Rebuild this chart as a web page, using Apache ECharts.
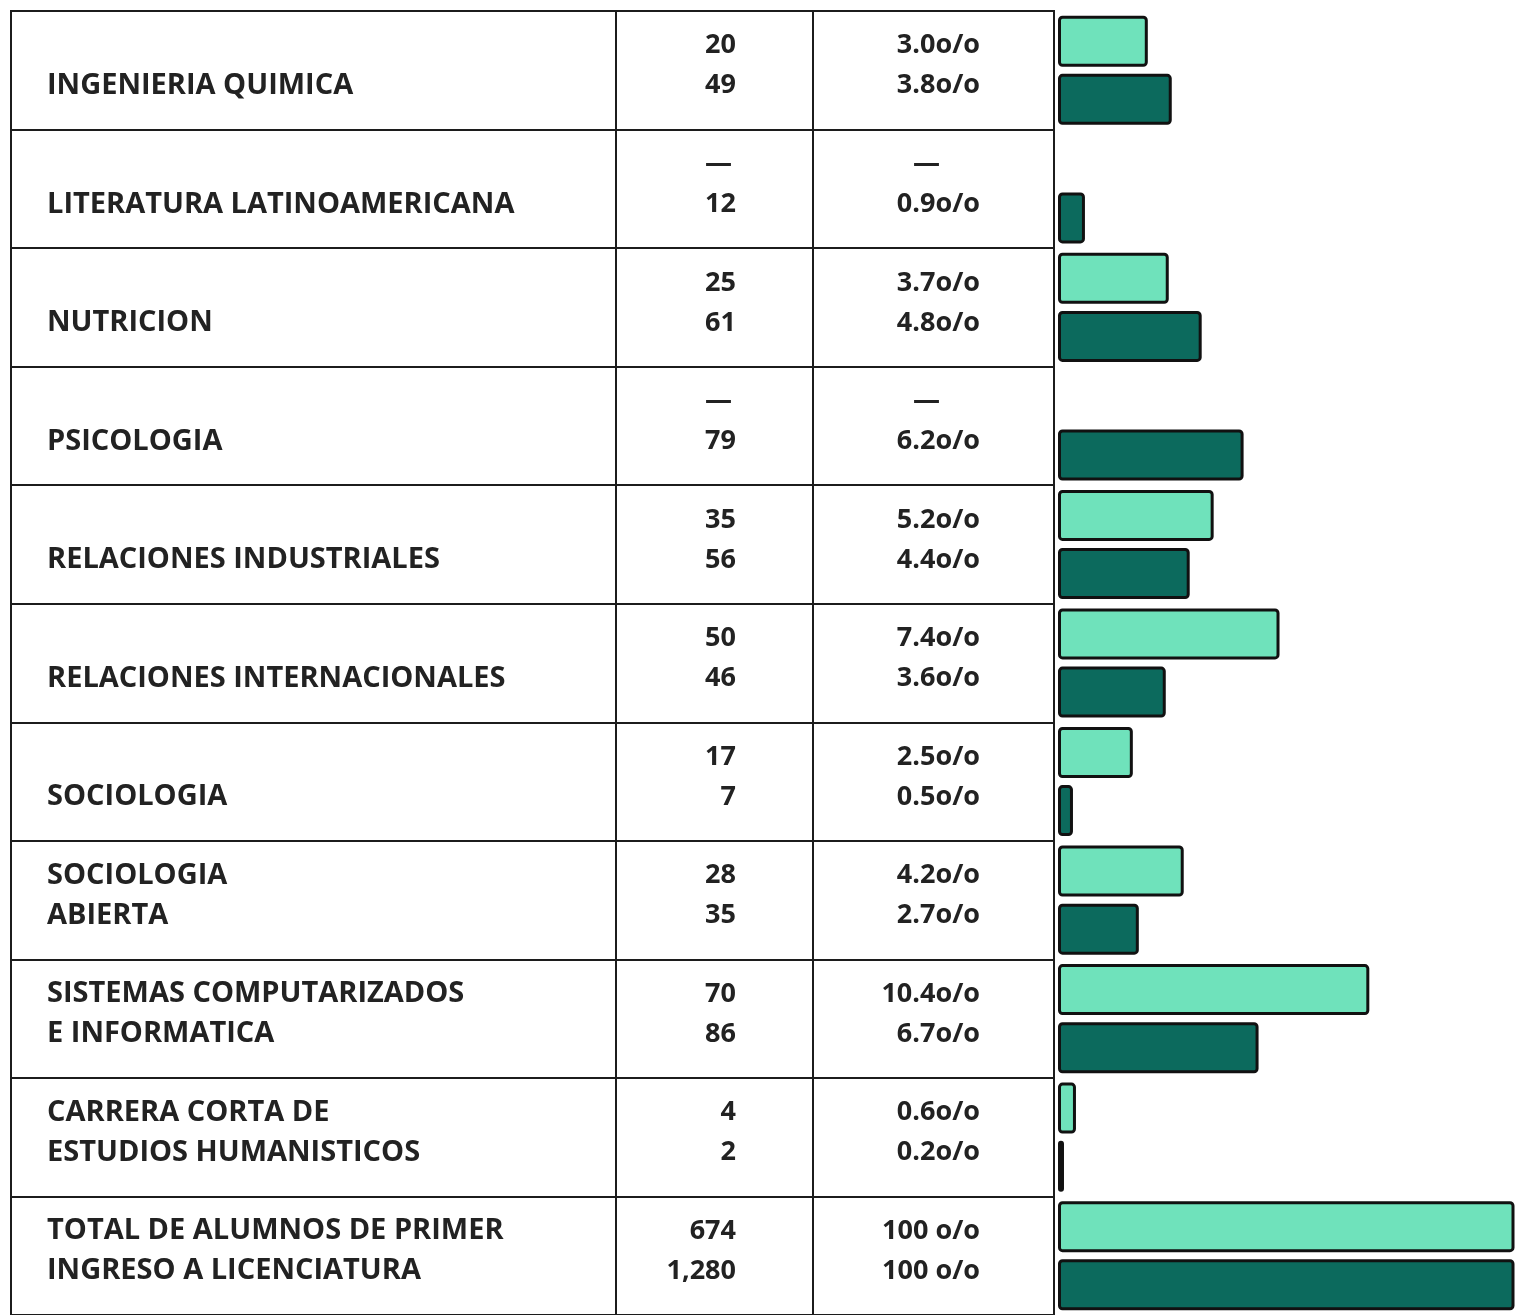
<!DOCTYPE html>
<html>
<head>
<meta charset="utf-8">
<script src="https://cdn.jsdelivr.net/npm/echarts@6/dist/echarts.min.js"></script>
<style>
  html, body { margin: 0; padding: 0; background: #fff; }
  #chart { width: 1517px; height: 1315px; }
</style>
</head>
<body>
<div id="chart"></div>
<script>
// Carreras (two text lines per row; a leading blank line keeps the name on the lower line)
const carreras = [
  '\nINGENIERIA QUIMICA',
  '\nLITERATURA LATINOAMERICANA',
  '\nNUTRICION',
  '\nPSICOLOGIA',
  '\nRELACIONES INDUSTRIALES',
  '\nRELACIONES INTERNACIONALES',
  '\nSOCIOLOGIA',
  'SOCIOLOGIA\nABIERTA',
  'SISTEMAS COMPUTARIZADOS\nE INFORMATICA',
  'CARRERA CORTA DE\nESTUDIOS HUMANISTICOS',
  'TOTAL DE ALUMNOS DE PRIMER\nINGRESO A LICENCIATURA'
];

// Alumnos de primer ingreso: first line (light bars) and second line (dark bars); null = "—"
const alumnosA = [20, null, 25, null, 35, 50, 17, 28, 70, 4, 674];
const alumnosB = [49, 12, 61, 79, 56, 46, 7, 35, 86, 2, 1280];

// Percentages of the total
const porcentajeA = [3.0, null, 3.7, null, 5.2, 7.4, 2.5, 4.2, 10.4, 0.6, 100];
const porcentajeB = [3.8, 0.9, 4.8, 6.2, 4.4, 3.6, 0.5, 2.7, 6.7, 0.2, 100];

const INK = '#1c1c1c';
const LIGHT = '#6fe2bb';
const DARK = '#0c6a5d';
const FONT = '"Open Sans"';

const TOP = 11;
const HEIGHT = 1310;

const nameText = { fontFamily: FONT, fontWeight: 700, fontSize: 29, color: '#222', lineHeight: 40 };
const numText = { fontFamily: FONT, fontWeight: 700, fontSize: 27, color: '#222', lineHeight: 40 };

function fmtCount(v) {
  return v == null ? '{d|—}' : '{n|' + v.toLocaleString('en-US') + '}';
}
function fmtPct(v) {
  if (v == null) return '{d|—}';
  const s = v === 100 ? '100 o/o' : v.toFixed(1) + 'o/o';
  return '{n|' + s + '}';
}

function tableY(gridIndex, position, margin, formatter, rich, text) {
  return {
    type: 'category',
    gridIndex: gridIndex,
    data: carreras,
    inverse: true,
    position: position,
    axisLine: { show: false },
    axisTick: { show: false },
    splitLine: { show: true, interval: 0, lineStyle: { color: INK, width: 2 } },
    axisLabel: Object.assign({
      show: true,
      interval: 0,
      inside: true,
      margin: margin,
      padding: [0, 0, 9, 0],
      formatter: formatter,
      rich: rich
    }, text)
  };
}

function hiddenX(gridIndex, max) {
  return {
    type: 'value', gridIndex: gridIndex, min: 0, max: max,
    axisLine: { show: false }, axisTick: { show: false },
    axisLabel: { show: false }, splitLine: { show: false }
  };
}

const gridStyle = { show: true, borderColor: INK, borderWidth: 2, backgroundColor: 'transparent' };

const option = {
  backgroundColor: '#ffffff',
  animation: false,
  grid: [
    Object.assign({ left: 11, width: 605, top: TOP, height: HEIGHT }, gridStyle),
    Object.assign({ left: 616, width: 197, top: TOP, height: HEIGHT }, gridStyle),
    Object.assign({ left: 813, width: 241, top: TOP, height: HEIGHT }, gridStyle),
    { left: 1058, width: 455, top: TOP, height: HEIGHT, show: false }
  ],
  xAxis: [hiddenX(0, 1), hiddenX(1, 1), hiddenX(2, 1), hiddenX(3, 15.2)],
  yAxis: [
    tableY(0, 'left', 36, function (v) { return v; }, {}, nameText),
    tableY(1, 'right', 77, function (v, i) {
      return fmtCount(alumnosA[i]) + '\n' + fmtCount(alumnosB[i]);
    }, {
      n: Object.assign({}, numText),
      d: Object.assign({ padding: [0, 4, 0, 0] }, numText)
    }, numText),
    tableY(2, 'right', 74, function (v, i) {
      return fmtPct(porcentajeA[i]) + '\n' + fmtPct(porcentajeB[i]);
    }, {
      n: Object.assign({}, numText),
      d: Object.assign({ padding: [0, 40, 0, 0] }, numText)
    }, numText),
    {
      type: 'category', gridIndex: 3, data: carreras, inverse: true,
      axisLine: { show: false }, axisTick: { show: false },
      axisLabel: { show: false }, splitLine: { show: false }
    }
  ],
  series: [
    {
      type: 'bar', xAxisIndex: 3, yAxisIndex: 3,
      data: porcentajeA,
      barWidth: 51, barGap: '14%',
      clip: true,
      itemStyle: { color: LIGHT, borderColor: '#111', borderWidth: 3, borderRadius: 3 }
    },
    {
      type: 'bar', xAxisIndex: 3, yAxisIndex: 3,
      data: porcentajeB,
      barWidth: 51, barGap: '14%',
      clip: true,
      itemStyle: { color: DARK, borderColor: '#111', borderWidth: 3, borderRadius: 3 }
    }
  ]
};

const chart = echarts.init(document.getElementById('chart'), null, { renderer: 'canvas' });
chart.setOption(option);
</script>
</body>
</html>
